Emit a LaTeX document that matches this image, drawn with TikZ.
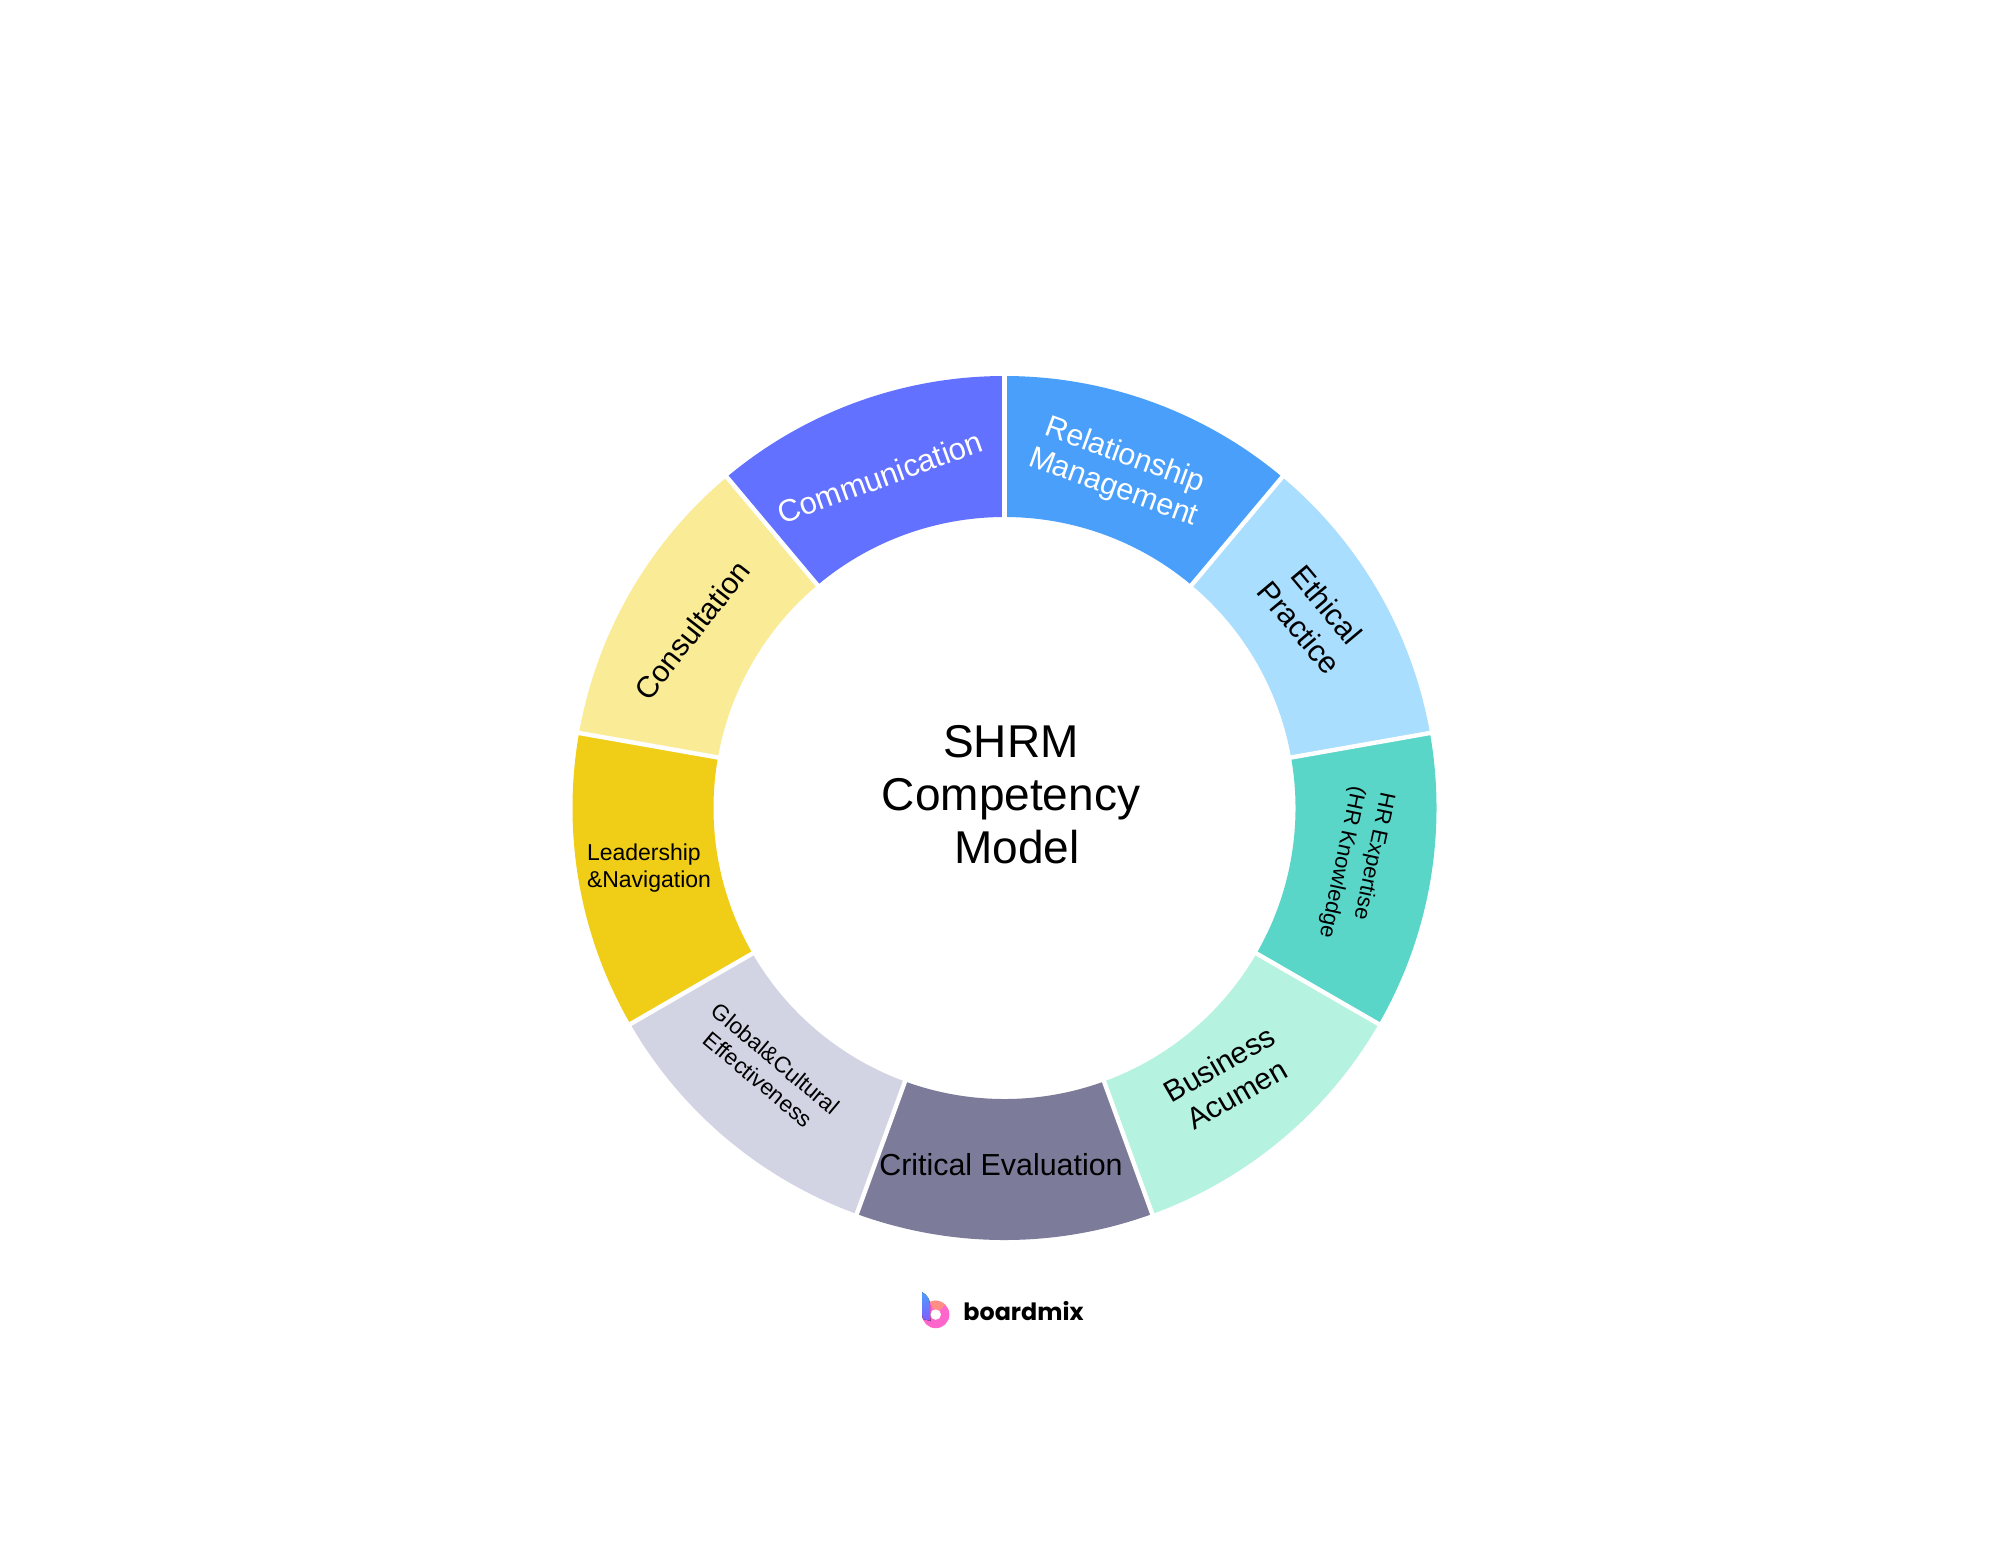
\documentclass[tikz,border=0pt]{standalone}
\usepackage{fontspec}
\setmainfont{Liberation Sans}
\newfontfamily\logofont{Poppins}
\begin{document}
\begin{tikzpicture}[x=0.5pt,y=-0.5pt,
  segtext/.style={font=\fontsize{#1}{#1}\selectfont,align=center,inner sep=0pt,text=black},
  gapline/.style={white,line width=2.2pt},
  ]
\useasboundingbox[fill=white] (0,0) rectangle (1990,1548);
\def\cx{1004.5}\def\cy{808}\def\Ro{216pt}\def\Ri{145.5pt}
\newcommand{\seg}[3]{%
  \fill[#1,shift={(\cx,\cy)}] (#2:\Ri) -- (#2:\Ro)
     arc[start angle=#2,end angle=#3,radius=\Ro] -- (#3:\Ri)
     arc[start angle=#3,end angle=#2,radius=\Ri] -- cycle;
}
\definecolor{c1}{HTML}{4A9FFB}\definecolor{c2}{HTML}{A9DEFF}\definecolor{c3}{HTML}{5AD6C8}
\definecolor{c4}{HTML}{B5F2DF}\definecolor{c5}{HTML}{7C7C9A}\definecolor{c6}{HTML}{D2D4E3}
\definecolor{c7}{HTML}{F0CD17}\definecolor{c8}{HTML}{FAEB97}\definecolor{c9}{HTML}{6271FF}
\definecolor{logopink}{HTML}{FF66CC}\definecolor{logoorange}{HTML}{FF8F85}
\seg{c1}{50}{90}
\seg{c2}{10}{50}
\seg{c3}{-30}{10}
\seg{c4}{-70}{-30}
\seg{c5}{-110}{-70}
\seg{c6}{-150}{-110}
\seg{c7}{170}{210}
\seg{c8}{130}{170}
\seg{c9}{90}{130}
\foreach \a in {90,50,10,-30,-70,-110,-150,170,130}
  \draw[gapline,shift={(\cx,\cy)}] (\a:{\Ri-1pt}) -- (\a:{\Ro+1pt});
\node[segtext=15.2,text=white,rotate=-20] (rel) at (1119,472) {Relationship\\[1.8pt]Management};
\node[segtext=15.2,rotate=-50] (eth) at (1313,616) {Ethical\\[2.8pt]Practice};
\node[segtext=11,align=left,rotate=-102] (hr) at (1356,865) {HR Expertise\\[4pt](HR Knowledge};
\node[segtext=15,rotate=30] (bus) at (1228,1079) {Business\\[2.5pt]Acumen};
\node[segtext=15.2] (cri) at (1001,1165) {Critical Evaluation};
\node[segtext=11.3,rotate=-40] (glo) at (767,1069) {Global\&Cultural\\[2.2pt]Effectiveness};
\node[segtext=11.5,align=left] (lea) at (649,868) {Leadership\\[1.8pt]\&Navigation};
\node[segtext=15,rotate=52] (con) at (692,630) {Consultation};
\node[segtext=15.5,text=white,rotate=20] (com) at (880,477) {Communication};
\node[font=\fontsize{23}{26.5}\selectfont,align=center,inner sep=0pt] (title) at (1011,795) {SHRM\\Competency\\\hspace*{6pt}Model};
% logo
\fill[even odd rule,fill=logopink] (935.7,1314.5) circle[radius=6.85pt] (935.7,1314.5) circle[radius=2.7pt];
\fill[fill=logoorange] (930,1301.7) arc[start angle=114,end angle=45,radius=6.85pt] -- (939.5,1310.7) arc[start angle=45,end angle=114,radius=2.7pt] -- cycle;
\fill[top color=c1,bottom color=c9!80!magenta] (922,1292) .. controls (927,1295) and (930,1299) .. (930,1305) -- (930,1316) -- (930.5,1321) -- (923,1319) -- (922,1314.5) -- cycle;
\node[font=\logofont\bfseries\fontsize{11.9}{12}\selectfont,inner sep=0pt,text=black] (logo) at (1023.5,1311) {boardmix};
\end{tikzpicture}
\end{document}
